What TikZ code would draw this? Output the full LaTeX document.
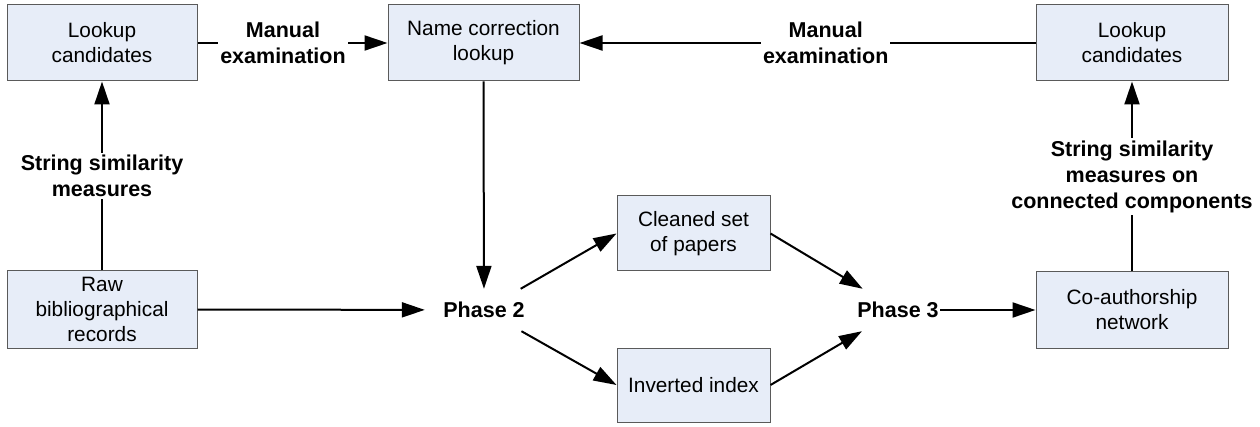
\documentclass[tikz,border=0pt]{standalone}
\usepackage{fontspec}
\setmainfont{Liberation Sans}
\usetikzlibrary{arrows.meta}
\definecolor{boxfill}{RGB}{231,237,248}
\definecolor{boxline}{RGB}{90,90,90}
\tikzset{
  box/.style={draw=boxline, line width=1pt, fill=boxfill, align=center,
    font=\fontsize{20.8pt}{25pt}\selectfont, inner sep=0pt},
  phase/.style={align=center, font=\fontsize{21.5pt}{25pt}\selectfont\bfseries,
    inner sep=0pt, minimum height=42pt},
  lbl/.style={fill=white, align=center, inner sep=2pt,
    font=\fontsize{21.5pt}{26pt}\selectfont\bfseries},
  arr/.style={line width=2pt, -{Triangle[length=23pt, width=15pt]}},
}
\begin{document}
\begin{tikzpicture}[x=1pt, y=-1pt]
  \useasboundingbox (0,0) rectangle (1260,427);

  % process boxes
  \node[box, minimum width=190pt, minimum height=76pt] (lcL) at (102,43) {Lookup\\candidates};
  \node[box, minimum width=191pt, minimum height=76pt] (ncl) at (483.5,43) {Name correction\\lookup};
  \node[box, minimum width=192pt, minimum height=76pt] (lcR) at (1132,43) {Lookup\\candidates};
  \node[box, minimum width=190pt, minimum height=77pt] (raw) at (102,309.5) {Raw\\bibliographical\\records};
  \node[box, minimum width=153pt, minimum height=75pt] (clean) at (693.5,233.5) {Cleaned set\\of papers};
  \node[box, minimum width=153pt, minimum height=74pt] (inv) at (693.5,385) {Inverted index};
  \node[box, minimum width=192pt, minimum height=76pt] (coauth) at (1132,310) {Co-authorship\\network};

  % phase markers
  \node[phase, minimum width=118pt] (p2) at (484,310) {Phase 2};
  \node[phase, minimum width=84pt] (p3) at (898,310) {Phase 3};

  % connectors
  \draw[arr] (lcL.east) -- node[lbl, pos=0.45] {Manual\\examination} (ncl.west);
  \draw[arr] (lcR.west) -- node[lbl, pos=0.46] {Manual\\examination} (ncl.east);
  \draw[arr] (raw.north) -- node[lbl] {String similarity\\measures} (lcL.south);
  \draw[arr] (coauth.north) -- node[lbl] {String similarity\\measures on\\connected components} (lcR.south);
  \draw[arr] (ncl.south) -- (p2);
  \draw[arr] (raw.east) -- (p2);
  \draw[arr] (p2) -- (clean.west);
  \draw[arr] (p2) -- (inv.west);
  \draw[arr] (clean.east) -- (p3);
  \draw[arr] (inv.east) -- (p3);
  \draw[arr] (p3) -- (coauth.west);
\end{tikzpicture}
\end{document}
